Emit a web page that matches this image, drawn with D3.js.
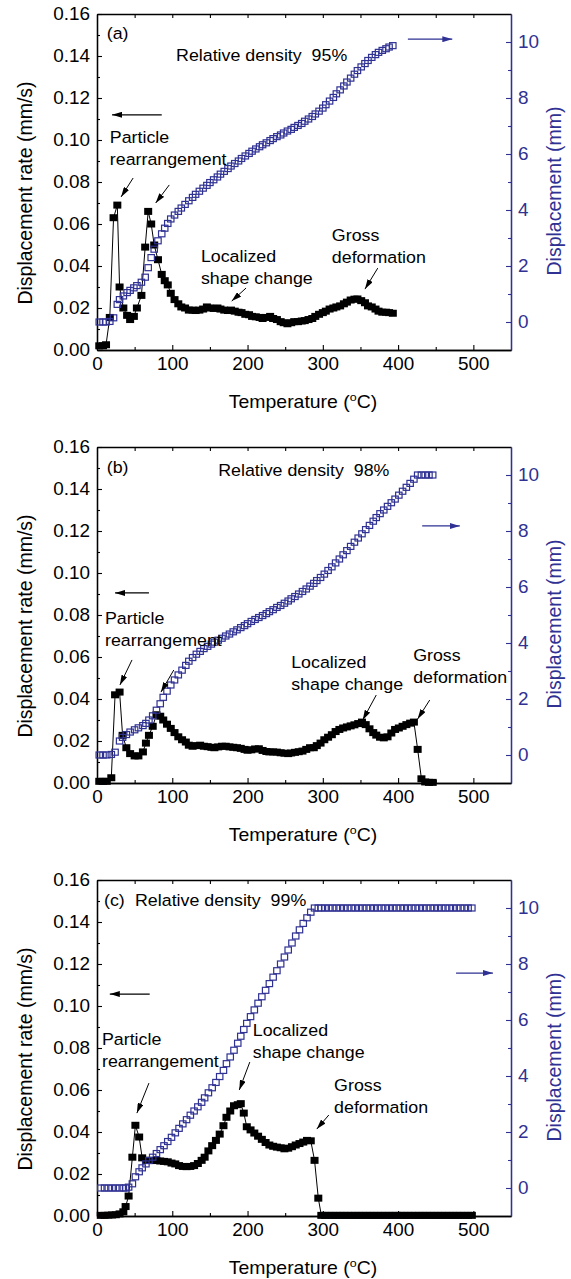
<!DOCTYPE html>
<html>
<head>
<meta charset="utf-8">
<script src="https://cdn.jsdelivr.net/npm/d3@7"></script>
<style>
  body { margin: 0; background: #fff; }
  svg text { font-family: "Liberation Sans", Arial, sans-serif; }
</style>
</head>
<body>
<script>
// temperature (C), displacement rate (mm/s), displacement (mm)
var tempA = [3,8,12,17,22,27,30,35,40,44, 49,53,59,64,68,72,76,81,86,90,
  94,98,103,108,112,117,122,127,131,136, 141,146,150,155,160,164,169,174,178,183,
  188,192,197,202,206,211,216,220,225,230, 234,239,244,248,253,258,262,267,272,276,
  281,286,290,295,300,304,309,314,318,323, 328,332,337,342,346,351,356,360,365,370,
  374,379,384,388,393];
var rateA = [0.002,0.002,0.0025,0.0155,0.063,0.069,0.030,0.020,0.0165,0.0145,
  0.016,0.020,0.026,0.049,0.066,0.060,0.050,0.043,0.036,0.033,
  0.031,0.027,0.024,0.022,0.0205,0.020,0.019,0.019,0.0188,0.019,
  0.0195,0.0205,0.020,0.0198,0.020,0.0195,0.019,0.0188,0.019,0.0185,
  0.018,0.0178,0.017,0.0168,0.016,0.0158,0.0155,0.015,0.0155,0.016,
  0.015,0.0145,0.0135,0.013,0.0125,0.013,0.0135,0.0135,0.0138,0.014,
  0.0145,0.015,0.016,0.017,0.0178,0.0185,0.0195,0.020,0.0205,0.021,
  0.022,0.0228,0.0238,0.0242,0.0243,0.0235,0.0225,0.021,0.0205,0.0195,
  0.0185,0.018,0.018,0.0178,0.0175];
var dispA = [0,0,0,0.02,0.15,0.63,0.8,0.93,1.05,1.13,
  1.22,1.3,1.42,1.6,1.94,2.3,2.6,2.9,3.15,3.35,
  3.52,3.68,3.82,3.95,4.07,4.2,4.33,4.45,4.56,4.67,
  4.78,4.88,4.98,5.08,5.18,5.28,5.38,5.48,5.57,5.66,
  5.75,5.84,5.93,6.02,6.1,6.18,6.26,6.33,6.4,6.48,
  6.55,6.62,6.68,6.75,6.82,6.88,6.95,7.02,7.09,7.17,
  7.25,7.34,7.43,7.53,7.64,7.76,7.89,8.02,8.15,8.29,
  8.43,8.57,8.71,8.85,8.98,9.11,9.23,9.34,9.45,9.55,
  9.63,9.7,9.76,9.82,9.87];

var tempB = [3,8,13,19,24,30,34,39,44,50, 55,61,65,69,74,79,84,88,93,98,
  103,108,113,118,122,127,132,137,142,147, 152,156,161,166,171,176,181,186,191,196,
  200,205,210,215,220,225,229,234,239,244, 249,254,258,263,268,273,278,283,288,292,
  297,302,307,312,317,322,327,332,337,342, 347,352,357,362,367,371,376,381,386,391,
  396,401,406,411,416,421,426,431,436,441, 446];
var rateB = [0.0008,0.0008,0.0008,0.0025,0.042,0.0433,0.0227,0.0168,0.014,0.0129,
  0.0129,0.0148,0.019,0.0227,0.027,0.0325,0.0318,0.030,0.028,0.026,
  0.024,0.022,0.0206,0.0195,0.018,0.0175,0.0178,0.018,0.0175,0.0173,
  0.017,0.0168,0.0172,0.0175,0.0175,0.0172,0.017,0.0168,0.0165,0.016,
  0.0156,0.0158,0.0162,0.0163,0.0155,0.015,0.0148,0.0148,0.0147,0.0144,
  0.0142,0.014,0.0143,0.0146,0.0149,0.0152,0.016,0.0168,0.0168,0.0178,
  0.019,0.0206,0.0218,0.023,0.0245,0.0255,0.0262,0.0267,0.0272,0.0277,
  0.0283,0.029,0.0278,0.0258,0.024,0.0228,0.0218,0.0215,0.022,0.0238,
  0.0255,0.0262,0.027,0.0278,0.0285,0.029,0.016,0.002,0.0005,0.0003,
  0.0003];
var dispB = [0,0,0,0.02,0.1,0.5,0.63,0.73,0.82,0.9,
  0.97,1.05,1.13,1.25,1.4,1.6,1.83,2.06,2.28,2.5,
  2.68,2.86,3.03,3.2,3.35,3.48,3.6,3.7,3.8,3.88,
  3.96,4.03,4.1,4.17,4.25,4.32,4.4,4.47,4.55,4.62,
  4.69,4.77,4.84,4.91,4.98,5.05,5.12,5.19,5.27,5.34,
  5.42,5.5,5.58,5.66,5.75,5.84,5.93,6.03,6.13,6.23,
  6.34,6.46,6.59,6.72,6.86,7.0,7.15,7.3,7.45,7.6,
  7.75,7.9,8.05,8.2,8.35,8.48,8.62,8.75,8.88,9.01,
  9.14,9.28,9.42,9.56,9.7,9.85,10,10,10,10,
  10];

var tempC = [5,10,15,20,25,30,35,38,42,47, 51,56,60,65,69,74,79,84,89,94,
  99,104,109,114,119,124,129,134,139,143, 148,153,158,163,168,172,177,182,187,191,
  195,199,204,209,214,219,224,229,234,239, 244,249,254,259,264,269,274,279,284,289,
  294,298,303,308,313,318,323,328,333,338, 343,348,353,358,363,368,373,378,383,388,
  393,398,403,408,413,418,423,428,433,438, 443,448,453,458,463,468,473,478,483,488,
  493,498];
var rateC = [0.0003,0.0003,0.0004,0.0005,0.0006,0.001,0.002,0.0045,0.0095,0.028,
  0.0432,0.0376,0.0277,0.0265,0.0265,0.0265,0.0264,0.0262,0.026,0.0258,
  0.0252,0.0248,0.024,0.0236,0.0235,0.0236,0.024,0.025,0.0265,0.028,
  0.031,0.0335,0.036,0.039,0.043,0.047,0.050,0.0525,0.053,0.0535,
  0.049,0.0425,0.041,0.0395,0.038,0.0365,0.035,0.0338,0.0332,0.0328,
  0.0325,0.032,0.0323,0.033,0.0338,0.0345,0.0352,0.036,0.0358,0.0265,
  0.0085,0.0003,0.0003,0.0003,0.0003,0.0003,0.0003,0.0003,0.0003,0.0003,
  0.0003,0.0003,0.0003,0.0003,0.0003,0.0003,0.0003,0.0003,0.0003,0.0003,
  0.0003,0.0003,0.0003,0.0003,0.0003,0.0003,0.0003,0.0003,0.0003,0.0003,
  0.0003,0.0003,0.0003,0.0003,0.0003,0.0003,0.0003,0.0003,0.0003,0.0003,
  0.0003,0.0003];
var dispC = [0,0,0,0,0,0,0,0,0.03,0.15,
  0.4,0.58,0.72,0.86,0.98,1.1,1.23,1.37,1.51,1.66,
  1.81,1.97,2.13,2.29,2.44,2.6,2.75,2.9,3.06,3.22,
  3.4,3.58,3.77,3.98,4.2,4.44,4.68,4.92,5.17,5.42,
  5.66,5.88,6.12,6.36,6.6,6.83,7.06,7.3,7.53,7.76,
  8.0,8.25,8.5,8.75,9.0,9.22,9.45,9.65,9.85,10,
  10,10,10,10,10,10,10,10,10,10,
  10,10,10,10,10,10,10,10,10,10,
  10,10,10,10,10,10,10,10,10,10,
  10,10,10,10,10,10,10,10,10,10,
  10,10];

var rateTicks = [0, 0.02, 0.04, 0.06, 0.08, 0.10, 0.12, 0.14, 0.16];
var dispTicks = [0, 2, 4, 6, 8, 10];
var tempTicks = [0, 100, 200, 300, 400, 500];

var NAVY = '#2f3193';
var W = 571, H = 1279;
var SX = 1.08; // the source figure's lettering is a little wide

// annotation spots are given in data units (temperature, rate)
var panels = [
  {tag: '(a)', top: 14, temp: tempA, rate: rateA, disp: dispA,
    tagAt: [13, 0.148], density: 'Relative density\u00a0\u00a095%', densityAt: [105, 0.1376],
    leftArrow: [86, 20, 0.112], rightArrow: [413, 472, 0.148],
    particleAt: [17, 0.0986], particleArrows: [[48, 0.0819, 32, 0.0729], [96, 0.0786, 78, 0.070]],
    localAt: [138, 0.0419], localArrow: [198, 0.0295, 179, 0.0233],
    grossAt: [312, 0.0519], grossArrow: [373, 0.039, 356, 0.029]},
  {tag: '(b)', top: 447, temp: tempB, rate: rateB, disp: dispB,
    tagAt: [13, 0.1476], density: 'Relative density\u00a0\u00a098%', densityAt: [161, 0.1462],
    leftArrow: [69, 24, 0.0905], rightArrow: [432, 482, 0.1224],
    particleAt: [10.6, 0.0757], particleArrows: [[46.5, 0.0586, 30.5, 0.0467], [102, 0.0538, 85, 0.0433]],
    localAt: [258, 0.0548], localArrow: [371, 0.0419, 353, 0.030],
    grossAt: [420, 0.0581], grossArrow: [442, 0.0395, 426, 0.0305]},
  {tag: '(c)', top: 880, temp: tempC, rate: rateC, disp: dispC,
    tagAt: [9.3, 0.1476], density: 'Relative density\u00a0\u00a099%', densityAt: [50.5, 0.1476],
    leftArrow: [70, 17, 0.1057], rightArrow: [477, 526, 0.1157],
    particleAt: [6.6, 0.0814], particleArrows: [[69, 0.0633, 53, 0.049]],
    localAt: [207, 0.0857], localArrow: [203, 0.0733, 189, 0.060],
    grossAt: [315, 0.0595], grossArrow: [308, 0.0481, 292, 0.0414]}
];
var plotH = 336;

var svg = d3.select('body').append('svg')
  .attr('width', W)
  .attr('height', H);

var defs = svg.append('defs');
[['arrK', '#000'], ['arrN', NAVY]].forEach(function(m) {
  defs.append('marker')
    .attr('id', m[0])
    .attr('viewBox', '0 0 10 6')
    .attr('refX', 10).attr('refY', 3)
    .attr('markerWidth', 10).attr('markerHeight', 6)
    .attr('markerUnits', 'userSpaceOnUse')
    .attr('orient', 'auto')
    .append('path')
    .attr('d', 'M0,0 L10,3 L0,6 Z')
    .attr('fill', m[1]);
});

function addText(g, x, y, str, size, fill, anchor) {
  return g.append('text')
    .attr('transform', 'translate(' + x + ',' + y + ') scale(' + SX + ',1)')
    .attr('font-size', size)
    .attr('fill', fill || '#000')
    .attr('text-anchor', anchor || 'start')
    .text(str);
}

function arrow(g, x1, y1, x2, y2, color, id, w) {
  g.append('line')
    .attr('x1', x1).attr('y1', y1).attr('x2', x2).attr('y2', y2)
    .attr('stroke', color).attr('stroke-width', w || 1)
    .attr('marker-end', 'url(#' + id + ')');
}

function styleAxis(ax, color) {
  ax.select('.domain').attr('stroke', color).attr('stroke-width', 1.3);
  ax.selectAll('.tick line').attr('stroke', color).attr('stroke-width', 1.1);
  ax.selectAll('.tick text').attr('fill', color)
    .attr('font-family', '"Liberation Sans", Arial, sans-serif')
    .attr('font-size', 17.5)
    .each(function() {
      var t = d3.select(this);
      var tx = +t.attr('x') || 0;
      t.attr('x', 0).attr('transform', 'translate(' + tx + ',0) scale(' + SX + ',1)');
    });
}

function drawPanel(p) {
  var top = p.top, bottom = top + plotH;
  var x = d3.scaleLinear().domain([0, 550]).range([97, 511]);
  var yL = d3.scaleLinear().domain([0, 0.16]).range([bottom, top]);
  var yR = d3.scaleLinear().domain([-1, 11]).range([bottom, top]);
  var g = svg.append('g');

  // minor ticks first, then the labelled axes
  g.append('g').attr('transform', 'translate(97,0)')
    .call(d3.axisLeft(yL).tickValues([0.01, 0.03, 0.05, 0.07, 0.09, 0.11, 0.13, 0.15])
      .tickSizeInner(-3).tickSizeOuter(0).tickFormat(''))
    .call(styleAxis, '#000');
  g.append('g').attr('transform', 'translate(0,' + bottom + ')')
    .call(d3.axisBottom(x).tickValues([50, 150, 250, 350, 450])
      .tickSizeInner(-3).tickSizeOuter(0).tickFormat(''))
    .call(styleAxis, '#000');
  g.append('g').attr('transform', 'translate(0,' + top + ')')
    .call(d3.axisTop(x).tickValues([50, 100, 150, 200, 250, 300, 350, 400, 450, 500])
      .tickSizeInner(-4).tickSizeOuter(0).tickFormat(''))
    .call(styleAxis, '#000');
  g.append('g').attr('transform', 'translate(511,0)')
    .call(d3.axisRight(yR).tickValues([1, 3, 5, 7, 9])
      .tickSizeInner(-3).tickSizeOuter(0).tickFormat(''))
    .call(styleAxis, NAVY);

  g.append('g').attr('transform', 'translate(97,0)')
    .call(d3.axisLeft(yL).tickValues(rateTicks).tickSizeInner(-5).tickSizeOuter(0)
      .tickPadding(7).tickFormat(d3.format('.2f')))
    .call(styleAxis, '#000');
  g.append('g').attr('transform', 'translate(0,' + bottom + ')')
    .call(d3.axisBottom(x).tickValues(tempTicks).tickSizeInner(-5).tickSizeOuter(0)
      .tickPadding(7))
    .call(styleAxis, '#000')
    .selectAll('.tick text').attr('dy', '0.76em');
  g.append('g').attr('transform', 'translate(511,0)')
    .call(d3.axisRight(yR).tickValues(dispTicks).tickSizeInner(-5).tickSizeOuter(0)
      .tickPadding(7))
    .call(styleAxis, NAVY);

  // axis titles
  g.append('text').attr('font-size', 19.5).attr('text-anchor', 'middle')
    .attr('transform', 'translate(32,' + (top + 179) + ') rotate(-90)')
    .text('Displacement rate (mm/s)');
  g.append('text').attr('font-size', 19.5).attr('text-anchor', 'middle').attr('fill', NAVY)
    .attr('transform', 'translate(561,' + (top + 177) + ') rotate(-90)')
    .text('Displacement (mm)');
  var tt = addText(g, 303, bottom + 58, 'Temperature (', 18, '#000', 'middle');
  tt.append('tspan').attr('font-size', 11.5).attr('dy', -7).text('o');
  tt.append('tspan').attr('dy', 7).text('C)');

  // rate: black filled squares joined by a thin line
  var pts = p.temp.map(function(t, i) { return {t: t, r: p.rate[i], d: p.disp[i]}; });
  g.append('path').datum(pts)
    .attr('fill', 'none').attr('stroke', '#000').attr('stroke-width', 1)
    .attr('d', d3.line().x(function(d) { return x(d.t); }).y(function(d) { return yL(d.r); }));
  g.selectAll('.rate').data(pts).enter().append('rect')
    .attr('class', 'rate')
    .attr('x', function(d) { return x(d.t) - 4; })
    .attr('y', function(d) { return yL(d.r) - 3.5; })
    .attr('width', 8).attr('height', 7)
    .attr('fill', '#000');

  // displacement: open navy squares
  g.selectAll('.disp').data(pts).enter().append('rect')
    .attr('class', 'disp')
    .attr('x', function(d) { return x(d.t) - 3.2; })
    .attr('y', function(d) { return yR(d.d) - 3; })
    .attr('width', 6.4).attr('height', 6)
    .attr('fill', 'none').attr('stroke', NAVY).attr('stroke-width', 1.2);

  // labels and arrows
  var fs = 16.5;
  addText(g, x(p.tagAt[0]), yL(p.tagAt[1]), p.tag, fs);
  addText(g, x(p.densityAt[0]), yL(p.densityAt[1]), p.density, fs);
  arrow(g, x(p.leftArrow[0]), yL(p.leftArrow[2]), x(p.leftArrow[1]), yL(p.leftArrow[2]), '#000', 'arrK', 1.3);
  arrow(g, x(p.rightArrow[0]), yL(p.rightArrow[2]), x(p.rightArrow[1]), yL(p.rightArrow[2]), NAVY, 'arrN', 1.3);

  addText(g, x(p.particleAt[0]), yL(p.particleAt[1]), 'Particle', fs);
  addText(g, x(p.particleAt[0]), yL(p.particleAt[1] - 0.0105), 'rearrangement', fs);
  p.particleArrows.forEach(function(a) {
    arrow(g, x(a[0]), yL(a[1]), x(a[2]), yL(a[3]), '#000', 'arrK', 1);
  });
  addText(g, x(p.localAt[0]), yL(p.localAt[1]), 'Localized', fs);
  addText(g, x(p.localAt[0]), yL(p.localAt[1] - 0.0105), 'shape change', fs);
  arrow(g, x(p.localArrow[0]), yL(p.localArrow[1]), x(p.localArrow[2]), yL(p.localArrow[3]), '#000', 'arrK', 1);
  addText(g, x(p.grossAt[0]), yL(p.grossAt[1]), 'Gross', fs);
  addText(g, x(p.grossAt[0]), yL(p.grossAt[1] - 0.0105), 'deformation', fs);
  arrow(g, x(p.grossArrow[0]), yL(p.grossArrow[1]), x(p.grossArrow[2]), yL(p.grossArrow[3]), '#000', 'arrK', 1);
}

panels.forEach(drawPanel);
</script>
</body>
</html>
